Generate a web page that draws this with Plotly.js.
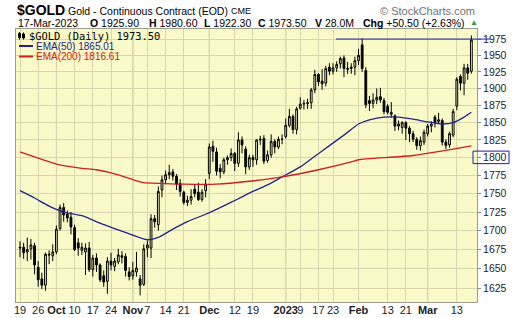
<!DOCTYPE html>
<html><head><meta charset="utf-8">
<script src="https://cdn.plot.ly/plotly-3.0.1.min.js"></script>
<style>html,body{margin:0;padding:0;background:#fff;}#chart{width:520px;height:318px;}</style>
</head><body><div id="chart"></div>
<script>
// ---------------- DATA ----------------
const dates = [
'2022-09-19','2022-09-20','2022-09-21','2022-09-22','2022-09-23','2022-09-26','2022-09-27','2022-09-28','2022-09-29','2022-09-30',
'2022-10-03','2022-10-04','2022-10-05','2022-10-06','2022-10-07','2022-10-10','2022-10-11','2022-10-12','2022-10-13','2022-10-14',
'2022-10-17','2022-10-18','2022-10-19','2022-10-20','2022-10-21','2022-10-24','2022-10-25','2022-10-26','2022-10-27','2022-10-28','2022-10-31',
'2022-11-01','2022-11-02','2022-11-03','2022-11-04','2022-11-07','2022-11-08','2022-11-09','2022-11-10','2022-11-11','2022-11-14',
'2022-11-15','2022-11-16','2022-11-17','2022-11-18','2022-11-21','2022-11-22','2022-11-23','2022-11-25','2022-11-28','2022-11-29','2022-11-30',
'2022-12-01','2022-12-02','2022-12-05','2022-12-06','2022-12-07','2022-12-08','2022-12-09','2022-12-12','2022-12-13','2022-12-14',
'2022-12-15','2022-12-16','2022-12-19','2022-12-20','2022-12-21','2022-12-22','2022-12-23','2022-12-27','2022-12-28','2022-12-29','2022-12-30',
'2023-01-03','2023-01-04','2023-01-05','2023-01-06','2023-01-09','2023-01-10','2023-01-11','2023-01-12','2023-01-13','2023-01-17',
'2023-01-18','2023-01-19','2023-01-20','2023-01-23','2023-01-24','2023-01-25','2023-01-26','2023-01-27','2023-01-30','2023-01-31',
'2023-02-01','2023-02-02','2023-02-03','2023-02-06','2023-02-07','2023-02-08','2023-02-09','2023-02-10','2023-02-13','2023-02-14',
'2023-02-15','2023-02-16','2023-02-17','2023-02-21','2023-02-22','2023-02-23','2023-02-24','2023-02-27','2023-02-28',
'2023-03-01','2023-03-02','2023-03-03','2023-03-06','2023-03-07','2023-03-08','2023-03-09','2023-03-10','2023-03-13','2023-03-14',
'2023-03-15','2023-03-16','2023-03-17'];

const open = [
1677,1678,1672,1676,1680,1652,1637,1629,1669,1667,
1672,1703,1731,1722,1718,1704,1684,1674,1672,1677,
1649,1664,1655,1641,1634,1660,1653,1659,1667,1666,1646,
1641,1646,1637,1630,1677,1677,1716,1708,1755,1769,
1776,1780,1774,1764,1752,1738,1741,1756,1752,1742,1754,
1778,1816,1808,1785,1780,1797,1800,1806,1792,1825,
1812,1787,1800,1797,1825,1827,1796,1804,1823,1815,1826,
1830,1846,1859,1840,1871,1877,1878,1879,1898,1921,
1911,1908,1932,1926,1931,1937,1946,1930,1930,1932,
1942,1966,1927,1882,1878,1883,1888,1882,1874,1862,
1860,1845,1843,1850,1842,1834,1826,1817,1822,
1834,1845,1858,1854,1853,1822,1818,1832,1874,1918,
1908,1931,1925.9];

const high = [
1686,1684,1691,1689,1684,1660,1645,1671,1674,1682,
1707,1735,1737,1727,1725,1708,1690,1684,1683,1685,
1668,1670,1657,1648,1665,1671,1664,1676,1673,1670,1652,
1659,1672,1642,1682,1687,1722,1721,1760,1775,1782,
1790,1784,1777,1770,1754,1747,1756,1762,1765,1756,1770,
1820,1824,1814,1791,1800,1803,1813,1808,1836,1830,
1816,1804,1804,1826,1831,1832,1810,1833,1826,1830,1833,
1856,1870,1862,1873,1887,1883,1885,1901,1928,1923,
1929,1934,1938,1938,1941,1948,1950,1940,1938,1948,
1960,1976,1932,1889,1893,1900,1901,1886,1877,1880,
1862,1853,1852,1852,1845,1838,1829,1830,1840,
1848,1852,1861,1864,1856,1826,1837,1870,1917,1921,
1937,1937,1980.6];

const low = [
1665,1663,1660,1662,1643,1627,1624,1622,1656,1660,
1669,1700,1712,1711,1695,1673,1667,1668,1642,1646,
1640,1646,1633,1627,1618,1648,1647,1656,1657,1640,1635,
1636,1640,1616,1628,1665,1664,1704,1700,1745,1763,
1770,1768,1755,1746,1735,1733,1735,1745,1740,1739,1745,
1770,1794,1775,1771,1777,1790,1795,1781,1787,1806,
1777,1783,1787,1790,1818,1791,1793,1800,1806,1812,1819,
1827,1843,1834,1833,1869,1869,1870,1870,1893,1904,
1898,1903,1920,1921,1925,1930,1917,1922,1922,1920,
1935,1925,1871,1867,1871,1877,1879,1862,1862,1857,
1838,1839,1834,1825,1822,1822,1811,1810,1818,
1830,1836,1843,1848,1817,1812,1814,1829,1868,1897,
1890,1913,1922.3];

const close = [
1678,1671,1675,1681,1655,1636,1629,1669,1668,1672,
1702,1731,1721,1717,1705,1675,1677,1678,1677,1649,
1664,1655,1636,1633,1660,1655,1660,1668,1665,1648,1640,
1648,1651,1629,1676,1681,1716,1712,1753,1769,1776,
1779,1774,1763,1753,1738,1741,1746,1750,1742,1752,1763,
1815,1809,1781,1780,1797,1800,1806,1792,1825,1818,
1787,1800,1797,1825,1826,1795,1804,1823,1815,1826,1826,
1846,1859,1840,1870,1877,1878,1879,1898,1921,1910,
1907,1930,1926,1931,1936,1945,1930,1929,1932,1942,
1950,1930,1876,1878,1883,1887,1883,1866,1865,1865,
1845,1848,1850,1842,1834,1826,1817,1824,1836,
1845,1848,1850,1852,1822,1817,1834,1866,1914,1908,
1931,1923,1973.5];

// EMA overlays
const ema50Dates = ['2022-09-19','2022-09-23','2022-09-29','2022-10-05','2022-10-12','2022-10-19','2022-10-26','2022-11-01','2022-11-07','2022-11-10','2022-11-16','2022-11-22','2022-11-30','2022-12-06','2022-12-13','2022-12-19','2022-12-23','2022-12-30','2023-01-09','2023-01-13','2023-01-20','2023-01-26','2023-02-01','2023-02-06','2023-02-10','2023-02-16','2023-02-23','2023-03-01','2023-03-07','2023-03-10','2023-03-15','2023-03-17'];
const ema50 = [1754,1744,1733,1725,1720,1710,1701,1694,1688,1691,1702,1712,1722,1731,1743,1753,1762,1773,1787,1802,1817,1832,1848,1854,1858,1858,1855,1851,1848,1850,1858,1865.01];

const ema200Dates = ['2022-09-19','2022-10-03','2022-10-12','2022-10-18','2022-10-26','2022-10-31','2022-11-04','2022-11-11','2022-11-21','2022-12-05','2022-12-16','2022-12-30','2023-01-17','2023-01-30','2023-02-01','2023-02-23','2023-03-17'];
const ema200 = [1808,1791,1785,1783,1776,1771,1765,1764,1763,1763,1767,1773,1783,1794,1797,1803,1816.61];

const tickDates  = ['2022-09-19','2022-09-26','2022-10-03','2022-10-10','2022-10-17','2022-10-24','2022-11-01','2022-11-07','2022-11-14','2022-11-21','2022-12-01','2022-12-12','2022-12-19','2023-01-03','2023-01-09','2023-01-17','2023-01-23','2023-02-01','2023-02-13','2023-02-21','2023-03-01','2023-03-13'];
const tickLabels = ['19','26','<b>Oct</b>','10','17','24','<b>Nov</b>','7','14','21','<b>Dec</b>','12','19','<b>2023</b>','9','17','23','<b>Feb</b>','13','21','<b>Mar</b>','13'];
const monthStarts = ['2022-10-03','2022-11-01','2022-12-01','2023-01-03','2023-02-01','2023-03-01'];
const priceTicks = [1625,1650,1675,1700,1725,1750,1775,1800,1825,1850,1875,1900,1925,1950,1975];
const priceView = [1607.7, 1990.6];
const volumeText = '28.0M';
const resistanceLevel = 1975;
const resistanceStart = '2023-01-24';
const boxedTick = 1800;

// ---------------- LAYOUT HELPERS ----------------
const PL = 16, PR = 477, PT = 29, PB = 302;
const px = x => (x - PL) / (PR - PL);
const py = y => (PB - y) / (PB - PT);
const FONT = 'Liberation Sans, Arial, sans-serif';
const N = dates.length;
const last = N - 1;
const chg = close[last] - close[last - 1];
const chgPct = chg / close[last - 1] * 100;
const idx = d => dates.indexOf(d);

const NAVY = '#23238c', RED = '#cc2020';

const traces = [
  {type:'scatter', mode:'lines', x:ema50Dates, y:ema50, line:{color:NAVY, width:1.3, shape:'spline', smoothing:0.6}, hoverinfo:'skip'},
  {type:'scatter', mode:'lines', x:ema200Dates, y:ema200, line:{color:RED, width:1.3, shape:'spline', smoothing:0.6}, hoverinfo:'skip'},
  {type:'candlestick', x:dates, open:open, high:high, low:low, close:close,
   increasing:{line:{color:'#000000', width:1}, fillcolor:'rgba(0,0,0,0)'},
   decreasing:{line:{color:'#000000', width:1}, fillcolor:'#000000'},
   whiskerwidth:0, hoverinfo:'skip'}
];

const ann = (text, x, y, size, opts) => Object.assign({
  text:text, xref:'paper', yref:'paper', x:px(x), y:py(y), xanchor:'left', yanchor:'middle',
  showarrow:false, font:{family:FONT, size:size, color:'#000'}}, opts || {});

const annotations = [
  ann('<b>$GOLD</b>', 15, 10, 14),
  ann('Gold - Continuous Contract (EOD)', 66, 10.5, 10.5),
  ann('CME', 229, 11, 9),
  ann('\u00a9 StockCharts.com', 477, 10.5, 11, {xanchor:'right', font:{family:FONT, size:11, color:'#707070'}}),
  ann('17-Mar-2023', 16, 22.5, 10.5),
  ann('<b>O</b> ' + open[last].toFixed(2), 88, 22.5, 10.5),
  ann('<b>H</b> ' + high[last].toFixed(2), 147, 22.5, 10.5),
  ann('<b>L</b> ' + low[last].toFixed(2), 202, 22.5, 10.5),
  ann('<b>C</b> ' + close[last].toFixed(2), 256, 22.5, 10.5),
  ann('<b>V</b> ' + volumeText, 313, 22.5, 10.5),
  ann('<b>Chg</b> +' + chg.toFixed(2) + ' (+' + chgPct.toFixed(2) + '%)', 361, 22.5, 10.5),
  ann('\u25B2', 468, 22, 8, {font:{family:FONT, size:8, color:'#2a9a2a'}}),
  ann('$GOLD (Daily) ' + close[last].toFixed(2), 27, 35.5, 10.4, {font:{family:'DejaVu Sans Mono, monospace', size:10.4, color:'#000'}}),
  ann('EMA(50) ' + ema50[ema50.length-1].toFixed(2), 34, 46, 10, {font:{family:FONT, size:10, color:NAVY}}),
  ann('EMA(200) ' + ema200[ema200.length-1].toFixed(2), 34, 56.5, 10, {font:{family:FONT, size:10, color:RED}})
];

const shapes = [];
monthStarts.forEach(d => shapes.push({type:'line', xref:'x', yref:'paper', x0:idx(d), x1:idx(d), y0:0, y1:1, layer:'below', line:{color:'#b8b694', width:1}}));
shapes.push({type:'line', xref:'x', yref:'y', x0:idx(resistanceStart)-0.2, x1:N+2, y0:resistanceLevel, y1:resistanceLevel, line:{color:'#1c1ca8', width:1}});
shapes.push({type:'line', xref:'paper', yref:'y', x0:1, x1:px(490), y0:resistanceLevel, y1:resistanceLevel, line:{color:'#1c1ca8', width:1}});
shapes.push({type:'rect', xref:'paper', yref:'y', x0:px(473), x1:px(509), y0:boxedTick*0.9953, y1:boxedTick*1.0051, line:{color:'#1c1ca8', width:1}});
// legend samples
shapes.push({type:'line', xref:'paper', yref:'paper', x0:px(19), x1:px(33), y0:py(46), y1:py(46), line:{color:NAVY, width:2}});
shapes.push({type:'line', xref:'paper', yref:'paper', x0:px(19), x1:px(33), y0:py(56.5), y1:py(56.5), line:{color:RED, width:2}});
// tiny candlestick icon
shapes.push({type:'line', xref:'paper', yref:'paper', x0:px(19.5), x1:px(19.5), y0:py(32), y1:py(39.5), line:{color:'#000', width:1}});
shapes.push({type:'rect', xref:'paper', yref:'paper', x0:px(18.5), x1:px(20.5), y0:py(33.5), y1:py(37.5), fillcolor:'#000', line:{color:'#000', width:1}});
shapes.push({type:'line', xref:'paper', yref:'paper', x0:px(23.5), x1:px(23.5), y0:py(32.5), y1:py(39.5), line:{color:'#000', width:1}});
shapes.push({type:'rect', xref:'paper', yref:'paper', x0:px(22.5), x1:px(24.5), y0:py(34), y1:py(38), fillcolor:'rgba(0,0,0,0)', line:{color:'#000', width:1}});

const layout = {
  width:520, height:318,
  margin:{l:PL, r:520-PR, t:PT, b:318-PB, pad:0},
  paper_bgcolor:'#ffffff', plot_bgcolor:'#fafac8',
  showlegend:false,
  xaxis:{type:'category', categoryorder:'array', categoryarray:dates,
    range:[-1.1, 125.55], tickmode:'array', tickvals:tickDates, ticktext:tickLabels,
    ticks:'', ticklen:0, tickangle:0, ticklabelstandoff:-2, tickfont:{family:FONT, size:11, color:'#222'},
    showgrid:true, gridcolor:'#d9d7ad', gridwidth:1, automargin:false,
    showline:true, mirror:true, linecolor:'#9c9c90', linewidth:1,
    rangeslider:{visible:false}, zeroline:false, fixedrange:true},
  yaxis:{type:'log', side:'right', range:[Math.log10(priceView[0]), Math.log10(priceView[1])],
    tickmode:'array', tickvals:priceTicks, ticktext:priceTicks.map(String),
    ticks:'outside', ticklen:3, tickcolor:'#888', tickfont:{family:FONT, size:10.5, color:'#222'},
    showgrid:true, gridcolor:'#d9d7ad', gridwidth:1, automargin:false,
    showline:true, mirror:true, linecolor:'#9c9c90', linewidth:1, zeroline:false, fixedrange:true},
  annotations:annotations, shapes:shapes
};

Plotly.newPlot('chart', traces, layout, {staticPlot:true, displayModeBar:false});
</script></body></html>
